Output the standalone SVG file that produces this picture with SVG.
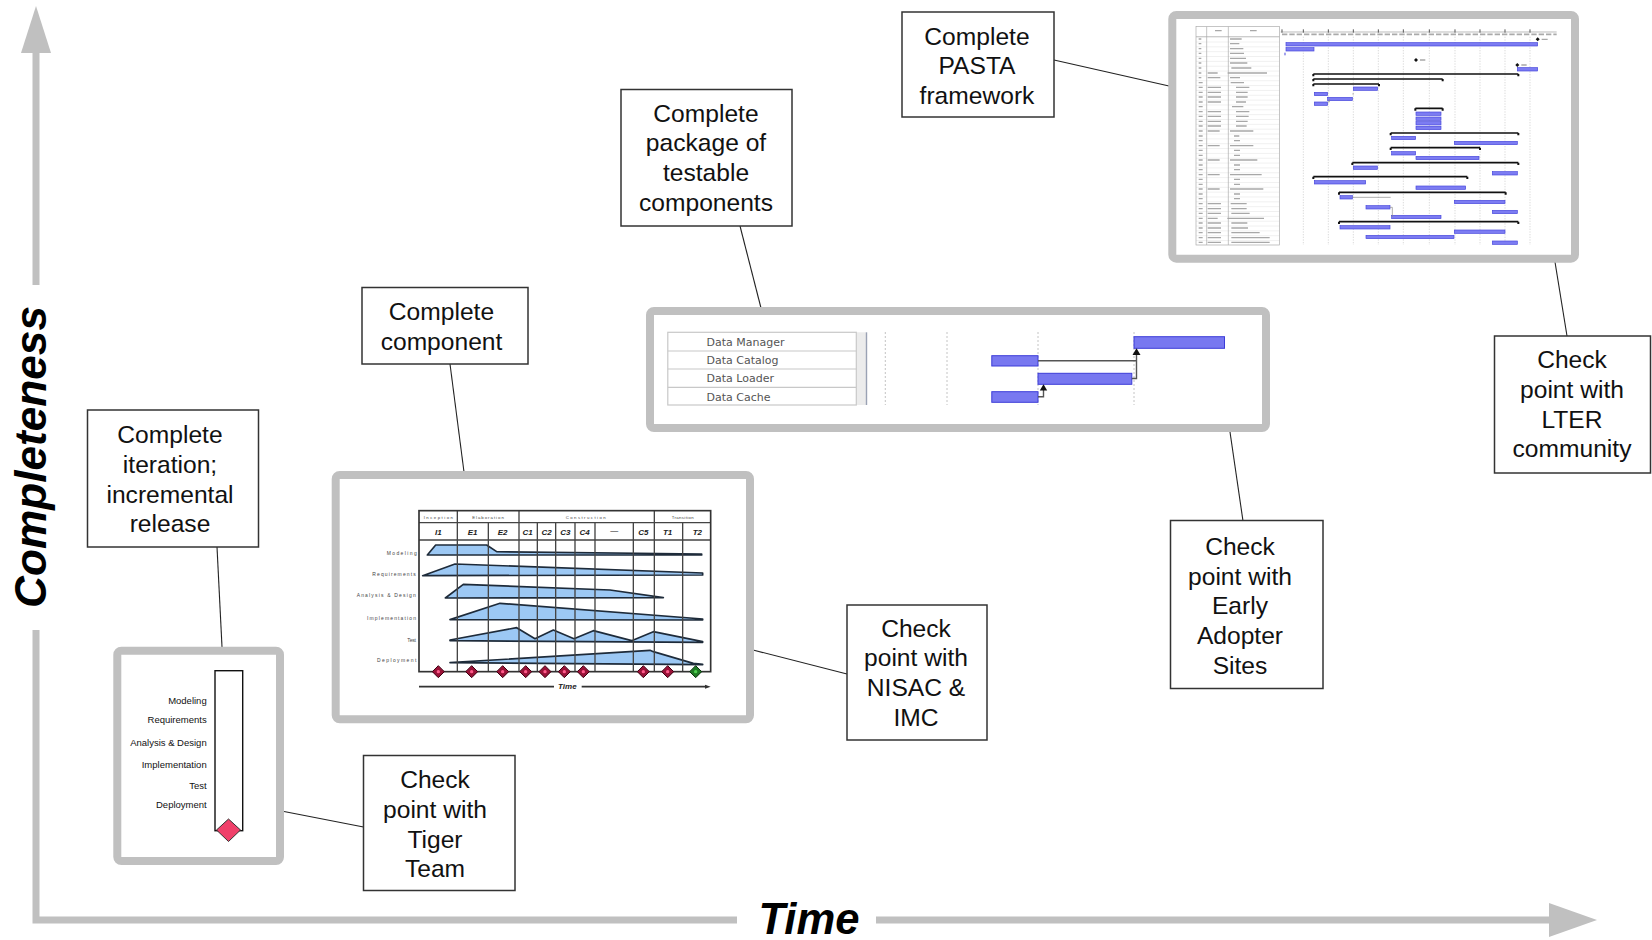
<svg xmlns="http://www.w3.org/2000/svg" width="1652" height="940" viewBox="0 0 1652 940">
  <style>
    .axis { stroke: #c0c0c0; stroke-width: 7; fill: none; }
    .axis-head { fill: #c0c0c0; }
    .axis-label { font-family: "Liberation Sans", Arial, sans-serif; font-weight: bold; font-style: italic; fill: #000; }
    .box { fill: #fff; stroke: #333; stroke-width: 1.5; }
    .lbl { font-family: "Liberation Sans", Arial, sans-serif; font-size: 24.6px; fill: #111; text-anchor: middle; }
    .frame { fill: #fff; stroke: #c0c0c0; stroke-width: 8; }
    .link { stroke: #222; stroke-width: 1.1; fill: none; }
    .small-lbl { font-family: "Liberation Sans", Arial, sans-serif; font-size: 9.5px; fill: #111; text-anchor: end; }
    .grid { stroke: #444; stroke-width: 4; fill: none; }
    .hump { fill: #9cc8f4; stroke: #1e2b3a; stroke-width: 5; stroke-linejoin: round; }
    .rowname { font-family: "Liberation Sans", Arial, sans-serif; font-size: 15px; fill: #444; text-anchor: end; }
    .phase { font-family: "Liberation Sans", Arial, sans-serif; font-size: 13px; fill: #444; text-anchor: middle; }
    .iter { font-family: "Liberation Sans", Arial, sans-serif; font-size: 24px; font-weight: bold; font-style: italic; fill: #222; text-anchor: middle; }
    .task { font-family: "DejaVu Sans", Verdana, sans-serif; font-size: 11px; fill: #555; }
    .bar { fill: #7878f0; stroke: #3c3cd8; stroke-width: 1; }
    .gbar { fill: #7c7cf2; stroke: #4646dc; stroke-width: 2; }
    .sum { stroke: #111; stroke-width: 5; fill: none; }
    .vdot { stroke: #c8c8c8; stroke-width: 2; stroke-dasharray: 4 4; }
    .smudge { stroke: #a8a8a8; stroke-width: 4; fill: none; }
  </style>
  <defs>
    <g id="ms-red">
      <polygon points="0,-18 18,0 0,18 -18,0" fill="#9a1238" stroke="#3a0010" stroke-width="3"/>
      <circle r="5" fill="#ff5a8a"/>
    </g>
    <g id="ms-green">
      <polygon points="0,-18 18,0 0,18 -18,0" fill="#1f7a24" stroke="#0c300e" stroke-width="3"/>
      <circle r="5" fill="#4fd050"/>
    </g>
    <pattern id="rows" patternUnits="userSpaceOnUse" width="250" height="14.53" x="108" y="110">
      <line x1="0" y1="0.5" x2="250" y2="0.5" stroke="#d4d4d4" stroke-width="1.5"/>
    </pattern>
  </defs>

  <!-- axes -->
  <g id="axes">
    <path class="axis" d="M36 52 V285 M36 630 V920 H737 M876 920 H1550"/>
    <polygon class="axis-head" points="36,6 51,53 21,53"/>
    <polygon class="axis-head" points="1597,920 1549,903 1549,937"/>
    <text class="axis-label" font-size="44" transform="translate(46 457) rotate(-90)" text-anchor="middle" textLength="302" lengthAdjust="spacingAndGlyphs">Completeness</text>
    <text class="axis-label" font-size="44" x="809" y="933.5" text-anchor="middle" textLength="101" lengthAdjust="spacingAndGlyphs">Time</text>
  </g>

  <!-- connectors -->
  <g id="connectors">
    <line class="link" x1="217" y1="547" x2="222" y2="647"/>
    <line class="link" x1="450" y1="364" x2="464" y2="472"/>
    <line class="link" x1="740" y1="226" x2="761" y2="308"/>
    <line class="link" x1="1054" y1="60" x2="1169" y2="86"/>
    <line class="link" x1="1555" y1="262" x2="1567" y2="336"/>
    <line class="link" x1="1230" y1="432" x2="1243" y2="521"/>
    <line class="link" x1="753" y1="650" x2="847" y2="674"/>
    <line class="link" x1="284" y1="811.5" x2="363.5" y2="827"/>
  </g>

  <!-- iteration frame -->
  <g id="iteration-view">
    <rect class="frame" x="117.3" y="650.7" width="162.7" height="210.3" rx="4"/>
    <rect x="215" y="670.7" width="27.7" height="160" fill="#fff" stroke="#111" stroke-width="1.4"/>
    <text class="small-lbl" x="206.7" y="704">Modeling</text>
    <text class="small-lbl" x="206.7" y="723.3">Requirements</text>
    <text class="small-lbl" x="206.7" y="746">Analysis &amp; Design</text>
    <text class="small-lbl" x="206.7" y="768.3">Implementation</text>
    <text class="small-lbl" x="206.7" y="789">Test</text>
    <text class="small-lbl" x="206.7" y="807.7">Deployment</text>
    <polygon points="228.5,819 240.5,830 228.5,841.5 216.5,830" fill="#f0406a" stroke="#333" stroke-width="1"/>
  </g>

  <!-- phases and iterations chart -->
  <g id="phase-view">
    <rect class="frame" x="335.7" y="475" width="414.3" height="244.3" rx="4"/>
    <g transform="translate(320 465) scale(0.33333)">
      <polygon class="hump" points="322,270 347,240 500,240 530,260 1145,267 1145,270"/>
      <polygon class="hump" points="308,332 405,297 1148,324 1148,330"/>
      <polygon class="hump" points="376,399 430,358 870,375 1030,398"/>
      <polygon class="hump" points="390,464 540,415 1148,462 1148,465"/>
      <polygon class="hump" points="390,525 590,488 645,521 700,495 762,521 820,497 935,527 1000,500 1148,530 1148,532 390,527"/>
      <polygon class="hump" points="390,593 990,556 1000,560 1120,595 1148,598 1148,599"/>
      <path class="grid" d="M297 173 H1172 M297 225 H1172 M412 137 V620 M597 137 V620 M1003 137 V620 M505 173 V620 M652 173 V620 M707 173 V620 M765 173 V620 M825 173 V620 M940 173 V620 M1088 173 V620"/>
      <rect x="297" y="137" width="875" height="483" fill="none" stroke="#333" stroke-width="5"/>
      <text class="phase" x="355" y="162" textLength="88" lengthAdjust="spacing">Inception</text>
      <text class="phase" x="504" y="162" textLength="95" lengthAdjust="spacing">Elaboration</text>
      <text class="phase" x="797" y="162" textLength="120" lengthAdjust="spacing">Construction</text>
      <text class="phase" x="1088" y="162" textLength="66" lengthAdjust="spacing">Transition</text>
      <text class="iter" x="355" y="209">I1</text>
      <text class="iter" x="458" y="209">E1</text>
      <text class="iter" x="548" y="209">E2</text>
      <text class="iter" x="623" y="209">C1</text>
      <text class="iter" x="680" y="209">C2</text>
      <text class="iter" x="736" y="209">C3</text>
      <text class="iter" x="794" y="209">C4</text>
      <text class="iter" x="883" y="205" fill="#999" font-weight="normal">—</text>
      <text class="iter" x="970" y="209">C5</text>
      <text class="iter" x="1043" y="209">T1</text>
      <text class="iter" x="1132" y="209">T2</text>
      <text class="rowname" x="290" y="270" textLength="90" lengthAdjust="spacing">Modeling</text>
      <text class="rowname" x="287" y="333" textLength="130" lengthAdjust="spacing">Requirements</text>
      <text class="rowname" x="287" y="397" textLength="177" lengthAdjust="spacing">Analysis &amp; Design</text>
      <text class="rowname" x="288" y="466" textLength="147" lengthAdjust="spacing">Implementation</text>
      <text class="rowname" x="288" y="530" textLength="26" lengthAdjust="spacing">Test</text>
      <text class="rowname" x="289" y="592" textLength="118" lengthAdjust="spacing">Deployment</text>
      <use href="#ms-red" x="355" y="620"/>
      <use href="#ms-red" x="455" y="620"/>
      <use href="#ms-red" x="548" y="620"/>
      <use href="#ms-red" x="617" y="620"/>
      <use href="#ms-red" x="675" y="620"/>
      <use href="#ms-red" x="733" y="620"/>
      <use href="#ms-red" x="790" y="620"/>
      <use href="#ms-red" x="970" y="620"/>
      <use href="#ms-red" x="1043" y="620"/>
      <use href="#ms-green" x="1127" y="620"/>
      <path d="M297 665 H702 M785 665 H1160" stroke="#333" stroke-width="5" fill="none"/>
      <polygon points="1172,665 1155,659 1155,671" fill="#333"/>
      <text class="iter" x="742" y="672" font-size="20">Time</text>
    </g>
  </g>

  <!-- component schedule -->
  <g id="component-view">
    <rect class="frame" x="650" y="311" width="616" height="117" rx="4"/>
    <rect x="667.8" y="332.3" width="188.5" height="72.7" fill="#fff" stroke="#c8c8c8" stroke-width="1.2"/>
    <path d="M667.8 351 H856.3 M667.8 369 H856.3 M667.8 387.3 H856.3" stroke="#c8c8c8" stroke-width="1.2"/>
    <rect x="857" y="332.3" width="9" height="72.7" fill="#ececec"/>
    <line x1="866.5" y1="332.3" x2="866.5" y2="405" stroke="#9aa2b4" stroke-width="1.4"/>
    <text class="task" x="706.5" y="346">Data Manager</text>
    <text class="task" x="706.5" y="364.3">Data Catalog</text>
    <text class="task" x="706.5" y="382.3">Data Loader</text>
    <text class="task" x="706.5" y="400.5">Data Cache</text>
    <path d="M885.3 332 V405 M947 332 V405 M1038 332 V405 M1134 332 V405" stroke="#c4c4c4" stroke-width="1" stroke-dasharray="2 2"/>
    <rect class="bar" x="1134" y="336.7" width="90.5" height="11.6"/>
    <rect class="bar" x="991.8" y="355.7" width="46.2" height="10.3"/>
    <rect class="bar" x="1038" y="373.3" width="93.8" height="11"/>
    <rect class="bar" x="991.8" y="391.7" width="46.2" height="10.6"/>
    <path d="M1038 360.8 H1136.5 V354 M1131.8 378.5 H1136.5 V360.8 M1038 396.8 H1043.5 V390" stroke="#555" stroke-width="1.4" fill="none"/>
    <polygon points="1136.5,348.3 1132.5,355 1140.5,355" fill="#111"/>
    <polygon points="1043.5,384.3 1039.8,390.5 1047.2,390.5" fill="#111"/>
  </g>

  <!-- framework project plan -->
  <g id="plan-view">
    <rect class="frame" x="1172.3" y="15" width="402.7" height="243.7" rx="4"/>
    <g transform="translate(1160 0) scale(0.33333)">
      <rect x="108" y="110" width="250" height="625" fill="url(#rows)"/>
      <rect x="108" y="80" width="250" height="655" fill="none" stroke="#a8a8a8" stroke-width="2"/>
      <path d="M108 110 H358 M140 80 V735 M205 80 V735" stroke="#a8a8a8" stroke-width="2"/>
      <path class="smudge" d="M165 92 h20 M270 92 h20"/>
      <path class="smudge" d="M116 117h8 M116 131h8 M116 146h8 M116 160h8 M116 175h8 M116 189h8 M116 204h8 M116 219h8 M116 233h8 M116 248h12 M116 262h12 M116 277h12 M116 291h12 M116 306h12 M116 320h12 M116 335h12 M116 349h12 M116 364h12 M116 378h12 M116 393h12 M116 408h12 M116 422h12 M116 437h12 M116 451h12 M116 466h12 M116 480h12 M116 495h12 M116 509h12 M116 524h12 M116 538h12 M116 553h12 M116 567h12 M116 582h12 M116 596h12 M116 611h12 M116 626h12 M116 640h12 M116 655h12 M116 669h12 M116 684h12 M116 698h12 M116 713h12 M116 727h12"/>
      <path class="smudge" d="M143 219h30 M143 233h38 M143 262h40 M143 277h40 M143 291h40 M143 306h40 M143 335h40 M143 349h40 M143 364h40 M143 378h40 M143 393h36 M143 437h36 M143 480h36 M143 524h36 M143 567h36 M143 611h40 M143 626h40 M143 640h40 M143 655h30 M143 669h40 M143 684h40 M143 698h40 M143 713h40 M143 727h40"/>
      <path class="smudge" d="M210 117h35 M210 131h28 M210 146h40 M210 160h42 M210 175h48 M210 189h52 M214 204h60 M203 219h118 M210 233h30 M212 248h40 M228 262h40 M228 277h35 M228 291h35 M228 306h30 M216 320h34 M228 335h40 M228 349h38 M228 364h35 M228 378h32 M210 393h70 M222 408h16 M222 422h18 M210 437h70 M222 451h18 M222 466h18 M210 480h82 M222 495h18 M222 509h18 M210 524h95 M222 538h18 M222 553h18 M210 567h100 M222 582h18 M222 596h18 M212 611h48 M214 626h46 M214 640h55 M202 655h110 M214 669h48 M214 684h50 M214 698h85 M214 713h115 M214 727h115"/>
      <line x1="362" y1="96" x2="1190" y2="96" stroke="#999" stroke-width="2"/>
      <line x1="366" y1="103" x2="1190" y2="103" stroke="#aaa" stroke-width="5" stroke-dasharray="16 6"/>
      <path d="M366 88 v10 M430 88 v10 M505 88 v10 M580 88 v10 M655 88 v10 M730 88 v10 M808 88 v10 M885 88 v10 M960 88 v10 M1035 88 v10 M1110 88 v10" stroke="#555" stroke-width="3"/>
      <path class="vdot" d="M430 110 V735 M505 110 V735 M580 110 V735 M655 110 V735 M730 110 V735 M808 110 V735 M885 110 V735 M960 110 V735 M1035 110 V735 M1110 110 V735"/>
      <rect class="gbar" x="378" y="128" width="755" height="10"/>
      <rect class="gbar" x="378" y="143" width="84" height="10"/>
      <rect class="gbar" x="1072" y="203" width="61" height="10"/>
      <rect class="gbar" x="580" y="261" width="73" height="10"/>
      <rect class="gbar" x="463" y="277" width="40" height="10"/>
      <rect class="gbar" x="503" y="292" width="74" height="10"/>
      <rect class="gbar" x="463" y="306" width="40" height="10"/>
      <rect class="gbar" x="768" y="336" width="75" height="10"/>
      <rect class="gbar" x="768" y="351" width="75" height="10"/>
      <rect class="gbar" x="768" y="365" width="75" height="10"/>
      <rect class="gbar" x="768" y="379" width="75" height="10"/>
      <rect class="gbar" x="695" y="409" width="72" height="10"/>
      <rect class="gbar" x="883" y="424" width="189" height="10"/>
      <rect class="gbar" x="695" y="455" width="72" height="10"/>
      <rect class="gbar" x="768" y="469" width="189" height="10"/>
      <rect class="gbar" x="580" y="498" width="72" height="10"/>
      <rect class="gbar" x="997" y="515" width="75" height="10"/>
      <rect class="gbar" x="463" y="542" width="154" height="10"/>
      <rect class="gbar" x="768" y="558" width="149" height="10"/>
      <rect class="gbar" x="540" y="587" width="37" height="10"/>
      <rect class="gbar" x="883" y="601" width="152" height="10"/>
      <rect class="gbar" x="618" y="617" width="72" height="10"/>
      <rect class="gbar" x="997" y="631" width="75" height="10"/>
      <rect class="gbar" x="695" y="646" width="148" height="10"/>
      <rect class="gbar" x="540" y="677" width="150" height="10"/>
      <rect class="gbar" x="883" y="690" width="152" height="10"/>
      <rect class="gbar" x="618" y="706" width="264" height="10"/>
      <rect class="gbar" x="997" y="723" width="75" height="10"/>
      <path class="sum" d="M460 222 H1075 M460 237 H848 M460 252 H657 M766 325 H848 M692 399 H1075 M692 443 H960 M577 488 H1075 M460 530 H922 M537 577 H1037 M537 665 H1075"/>
      <path d="M460 222 v7 M1075 222 v7 M460 237 v7 M848 237 v7 M460 252 v7 M657 252 v7 M766 325 v7 M848 325 v7 M692 399 v7 M1075 399 v7 M692 443 v7 M960 443 v7 M577 488 v7 M1075 488 v7 M460 530 v7 M922 530 v7 M537 577 v7 M1037 577 v7 M537 665 v7 M1075 665 v7" stroke="#111" stroke-width="6"/>
      <path d="M577 592 H692 M577 282 H582 M503 306 H508 V297 M690 622 H697 V651" stroke="#888" stroke-width="2" fill="none"/>
      <polygon points="768,174 774,180 768,186 762,180" fill="#111"/>
      <polygon points="1072,189 1078,195 1072,201 1066,195" fill="#111"/>
      <polygon points="1133,112 1139,118 1133,124 1127,118" fill="#111"/>
      <path class="smudge" d="M780 180 h16 M1084 195 h16 M1145 118 h18"/>
      <line x1="375" y1="158" x2="375" y2="166" stroke="#4646dc" stroke-width="3"/>
    </g>
  </g>

  <!-- milestone notes -->
  <g id="note-framework">
    <rect class="box" x="902" y="12" width="152" height="105"/>
    <text class="lbl" x="977" y="44.5">Complete</text>
    <text class="lbl" x="977" y="74.2">PASTA</text>
    <text class="lbl" x="977" y="103.9">framework</text>
  </g>
  <g id="note-package">
    <rect class="box" x="621" y="89.5" width="171" height="136.5"/>
    <text class="lbl" x="706" y="121.7">Complete</text>
    <text class="lbl" x="706" y="151.4">package of</text>
    <text class="lbl" x="706" y="181.1">testable</text>
    <text class="lbl" x="706" y="210.8">components</text>
  </g>
  <g id="note-component">
    <rect class="box" x="362" y="287.5" width="166" height="76.5"/>
    <text class="lbl" x="441.5" y="320">Complete</text>
    <text class="lbl" x="441.5" y="349.5">component</text>
  </g>
  <g id="note-iteration">
    <rect class="box" x="87.5" y="410" width="171" height="137"/>
    <text class="lbl" x="170" y="443.3">Complete</text>
    <text class="lbl" x="170" y="473">iteration;</text>
    <text class="lbl" x="170" y="502.7">incremental</text>
    <text class="lbl" x="170" y="532.4">release</text>
  </g>
  <g id="note-tiger">
    <rect class="box" x="363.5" y="755.5" width="151.5" height="135"/>
    <text class="lbl" x="435" y="788.3">Check</text>
    <text class="lbl" x="435" y="818">point with</text>
    <text class="lbl" x="435" y="847.7">Tiger</text>
    <text class="lbl" x="435" y="877.4">Team</text>
  </g>
  <g id="note-nisac">
    <rect class="box" x="847" y="605" width="140" height="135"/>
    <text class="lbl" x="916" y="636.7">Check</text>
    <text class="lbl" x="916" y="666.4">point with</text>
    <text class="lbl" x="916" y="696.1">NISAC &amp;</text>
    <text class="lbl" x="916" y="725.8">IMC</text>
  </g>
  <g id="note-early">
    <rect class="box" x="1170.5" y="520.5" width="152.5" height="168"/>
    <text class="lbl" x="1240" y="555">Check</text>
    <text class="lbl" x="1240" y="584.7">point with</text>
    <text class="lbl" x="1240" y="614.4">Early</text>
    <text class="lbl" x="1240" y="644.1">Adopter</text>
    <text class="lbl" x="1240" y="673.8">Sites</text>
  </g>
  <g id="note-lter">
    <rect class="box" x="1494.5" y="336" width="156" height="137"/>
    <text class="lbl" x="1572" y="368.3">Check</text>
    <text class="lbl" x="1572" y="398">point with</text>
    <text class="lbl" x="1572" y="427.7">LTER</text>
    <text class="lbl" x="1572" y="457.4">community</text>
  </g>
</svg>
